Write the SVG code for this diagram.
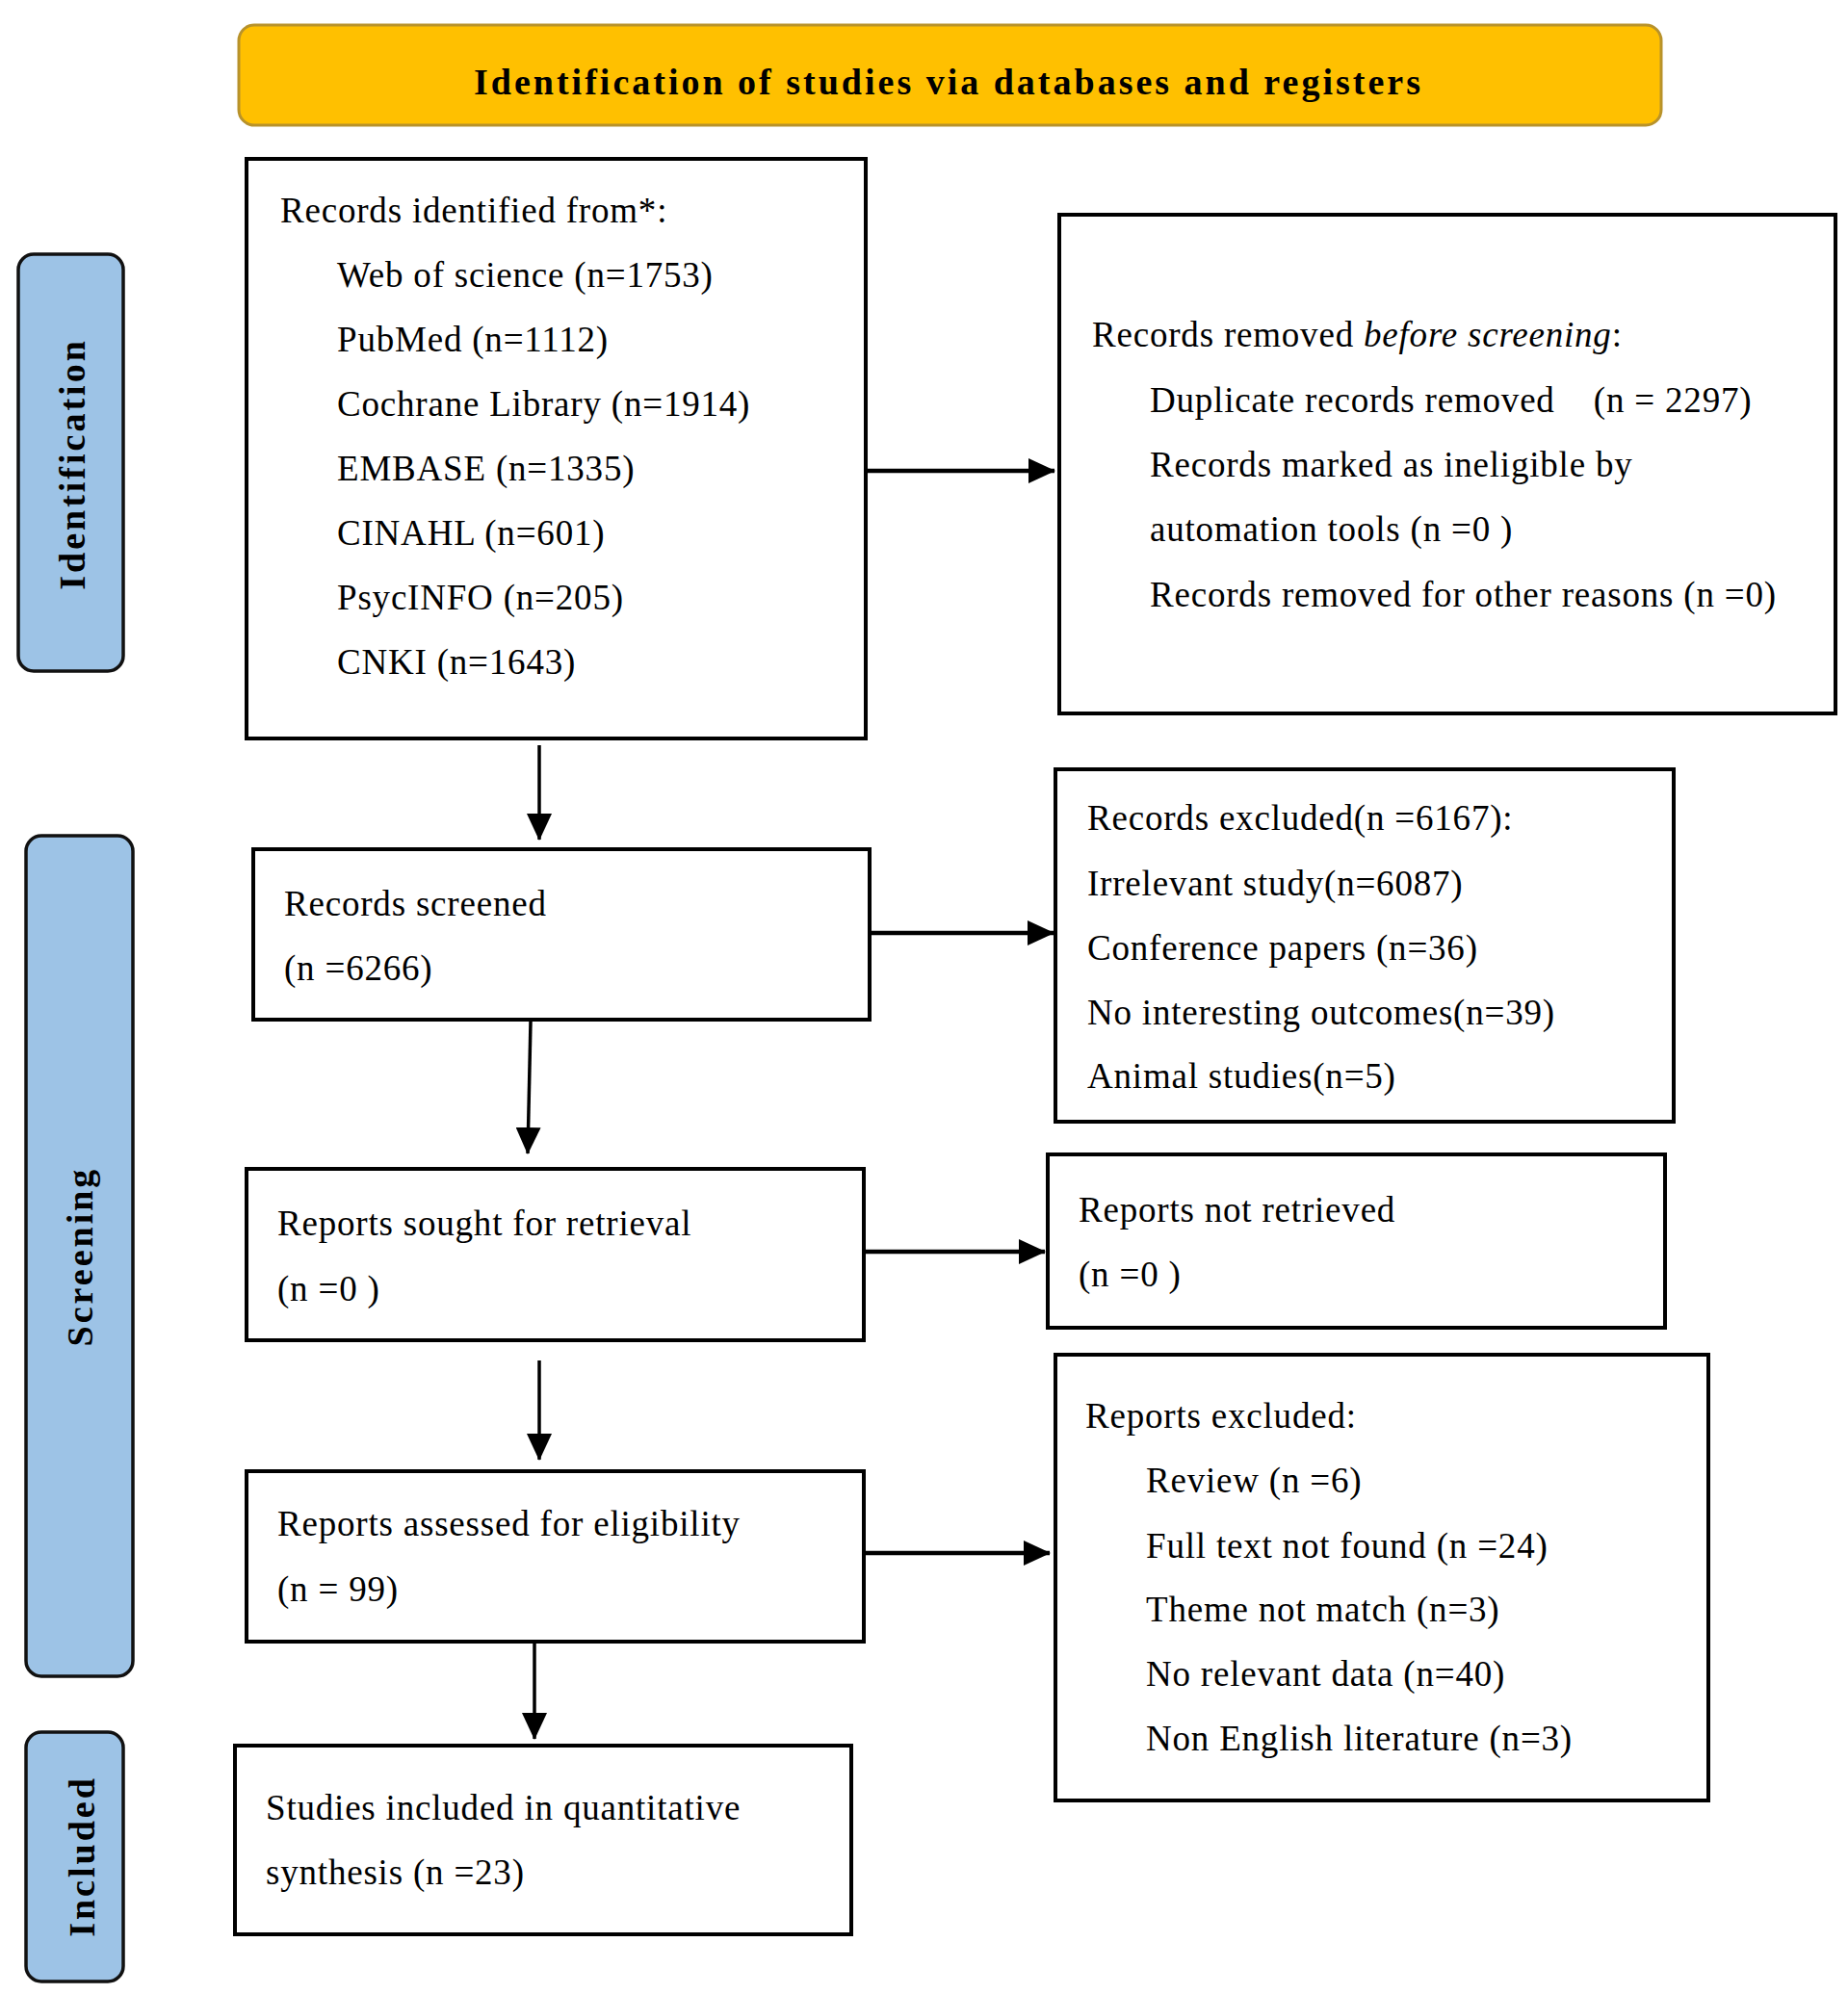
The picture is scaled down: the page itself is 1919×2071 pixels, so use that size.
<svg xmlns="http://www.w3.org/2000/svg" width="1919" height="2071" viewBox="0 0 1919 2071">
<style>
text{font-family:"Liberation Serif","Times New Roman",serif;fill:#000}
.t{font-size:37px;letter-spacing:0.8px}
.h{font-size:38px;font-weight:bold;letter-spacing:3px}
.box{fill:#fff;stroke:#000;stroke-width:4}
.lab{fill:#9DC3E6;stroke:#111;stroke-width:3.5}
.hc{stroke:#000;stroke-width:4.5;fill:none}
.vc{stroke:#000;stroke-width:3.5;fill:none}
</style>
<defs>
<marker id="ah" markerUnits="userSpaceOnUse" markerWidth="28" markerHeight="26" refX="27" refY="13" orient="auto">
<path d="M0,0 L28,13 L0,26 z" fill="#000"/>
</marker>
</defs>
<rect width="1919" height="2071" fill="#fff"/>

<g id="title">
<rect x="248" y="26" width="1477" height="104" rx="16" fill="#FFC000" stroke="#B8922A" stroke-width="3"/>
<text class="h" x="985" y="98" text-anchor="middle">Identification of studies via databases and registers</text>
</g>

<g id="label-identification">
<rect class="lab" x="19" y="264" width="109" height="433" rx="16"/>
<text class="h" transform="translate(88,482) rotate(-90)" text-anchor="middle">Identification</text>
</g>
<g id="label-screening">
<rect class="lab" x="27" y="868" width="111" height="873" rx="16"/>
<text class="h" transform="translate(96,1305) rotate(-90)" text-anchor="middle">Screening</text>
</g>
<g id="label-included">
<rect class="lab" x="27" y="1799" width="101" height="259" rx="16"/>
<text class="h" transform="translate(98,1928) rotate(-90)" text-anchor="middle">Included</text>
</g>

<g id="records-identified">
<rect class="box" x="256" y="165" width="643" height="602"/>
<text class="t" x="291" y="231">Records identified from*:</text>
<text class="t" x="350" y="298">Web of science (n=1753)</text>
<text class="t" x="350" y="365">PubMed (n=1112)</text>
<text class="t" x="350" y="432">Cochrane Library (n=1914)</text>
<text class="t" x="350" y="499">EMBASE (n=1335)</text>
<text class="t" x="350" y="566">CINAHL (n=601)</text>
<text class="t" x="350" y="633">PsycINFO (n=205)</text>
<text class="t" x="350" y="700">CNKI (n=1643)</text>
</g>

<g id="records-removed">
<rect class="box" x="1100" y="223" width="806" height="518"/>
<text class="t" x="1134" y="360">Records removed <tspan font-style="italic">before screening</tspan>:</text>
<text class="t" x="1194" y="428" xml:space="preserve">Duplicate records removed    (n = 2297)</text>
<text class="t" x="1194" y="495">Records marked as ineligible by</text>
<text class="t" x="1194" y="562">automation tools (n =0 )</text>
<text class="t" x="1194" y="630">Records removed for other reasons (n =0)</text>
</g>

<g id="records-screened">
<rect class="box" x="263" y="882" width="640" height="177"/>
<text class="t" x="295" y="951">Records screened</text>
<text class="t" x="295" y="1018">(n =6266)</text>
</g>

<g id="records-excluded">
<rect class="box" x="1096" y="799" width="642" height="366"/>
<text class="t" x="1129" y="862">Records excluded(n =6167):</text>
<text class="t" x="1129" y="930">Irrelevant study(n=6087)</text>
<text class="t" x="1129" y="997">Conference papers (n=36)</text>
<text class="t" x="1129" y="1064">No interesting outcomes(n=39)</text>
<text class="t" x="1129" y="1130">Animal studies(n=5)</text>
</g>

<g id="reports-sought">
<rect class="box" x="256" y="1214" width="641" height="178"/>
<text class="t" x="288" y="1283">Reports sought for retrieval</text>
<text class="t" x="288" y="1351">(n =0 )</text>
</g>

<g id="reports-not-retrieved">
<rect class="box" x="1088" y="1199" width="641" height="180"/>
<text class="t" x="1120" y="1269">Reports not retrieved</text>
<text class="t" x="1120" y="1336">(n =0 )</text>
</g>

<g id="reports-assessed">
<rect class="box" x="256" y="1528" width="641" height="177"/>
<text class="t" x="288" y="1595">Reports assessed for eligibility</text>
<text class="t" x="288" y="1663">(n = 99)</text>
</g>

<g id="reports-excluded">
<rect class="box" x="1096" y="1407" width="678" height="463"/>
<text class="t" x="1127" y="1483">Reports excluded:</text>
<text class="t" x="1190" y="1550">Review (n =6)</text>
<text class="t" x="1190" y="1618">Full text not found (n =24)</text>
<text class="t" x="1190" y="1684">Theme not match (n=3)</text>
<text class="t" x="1190" y="1751">No relevant data (n=40)</text>
<text class="t" x="1190" y="1818">Non English literature (n=3)</text>
</g>

<g id="studies-included">
<rect class="box" x="244" y="1813" width="640" height="196"/>
<text class="t" x="276" y="1890">Studies included in quantitative</text>
<text class="t" x="276" y="1957">synthesis (n =23)</text>
</g>

<g id="connectors">
<line class="hc" x1="899" y1="489" x2="1095" y2="489" marker-end="url(#ah)"/>
<line class="vc" x1="560" y1="774" x2="560" y2="872" marker-end="url(#ah)"/>
<line class="hc" x1="903" y1="969" x2="1094" y2="969" marker-end="url(#ah)"/>
<line class="vc" x1="551" y1="1061" x2="548" y2="1198" marker-end="url(#ah)"/>
<line class="hc" x1="897" y1="1300" x2="1085" y2="1300" marker-end="url(#ah)"/>
<line class="vc" x1="560" y1="1413" x2="560" y2="1516" marker-end="url(#ah)"/>
<line class="hc" x1="897" y1="1613" x2="1090" y2="1613" marker-end="url(#ah)"/>
<line class="vc" x1="555" y1="1706" x2="555" y2="1806" marker-end="url(#ah)"/>
</g>
</svg>
